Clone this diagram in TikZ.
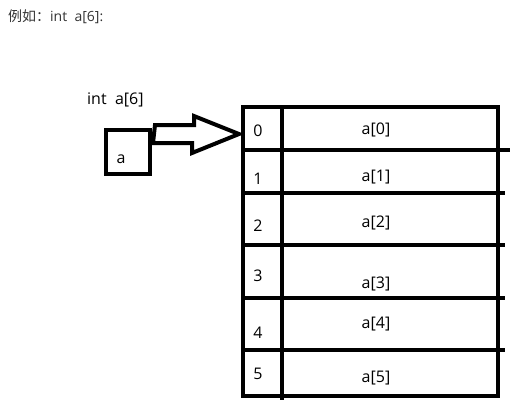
\documentclass[tikz,border=0pt]{standalone}
\usepackage{fontspec}
\usetikzlibrary{calc}
\setmainfont{Open Sans}
\newfontfamily\cjk{Noto Sans CJK SC}
\definecolor{gristxt}{RGB}{51,51,51}
\tikzset{
  grueso/.style={line width=4pt},
  rotulo/.style={font=\fontsize{16}{18}\selectfont, inner sep=0pt},
}
\begin{document}
\begin{tikzpicture}[x=1pt,y=-1pt]
  \useasboundingbox (0,0) rectangle (523,416);
  \node[anchor=west, text=gristxt, font=\fontsize{14}{16}\selectfont, inner sep=0pt] (titulo) at (8,17) {{\cjk 例如：}int\ \ a[6]:};
  \node[rotulo, anchor=west] (decl) at (87,100) {int\ \ a[6]};
  \node[draw, grueso, minimum width=44pt, minimum height=44pt, inner sep=0pt] (var) at (128,152) {};
  \node[rotulo] (letra) at (121,159) {a};
  \draw[grueso] (243,107) rectangle (498,396);
  \draw[grueso] (282,107) -- (282,400);
  \foreach \y/\xf in {150/510, 193/505, 245/505, 298/505, 350/505}
    \draw[grueso] (245,\y) -- (\xf,\y);
  \foreach \i/\yi/\ya in {0/131/130, 1/179/177, 2/226/223, 3/276/284, 4/333/324, 5/374/378}{
    \node[rotulo] (idx\i) at (258,\yi) {\i};
    \node[rotulo] (elem\i) at (376,\ya) {a[\i]};
  }
  \coordinate (base) at ($(var.east)+(3,-27)$);
  \coordinate (pico) at (239,134);
  \draw[grueso, line join=miter] (base) -- ++(39,0) -- ++(0,-9) -- (pico) -- ++(-47,19) -- ++(0,-10) -- ++(-39,0) -- cycle;
\end{tikzpicture}
\end{document}
